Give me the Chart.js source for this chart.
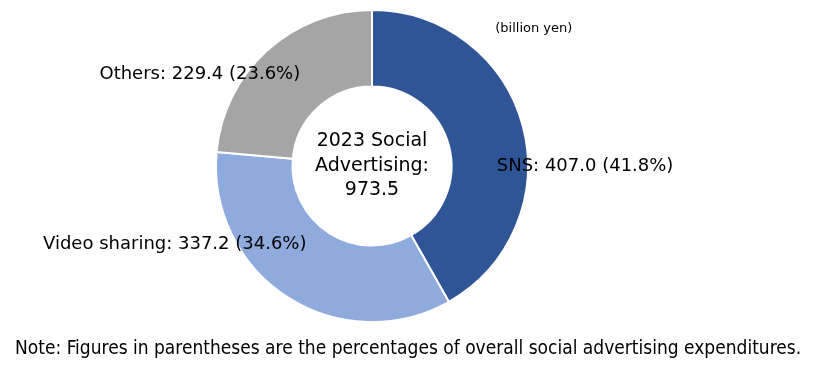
<!DOCTYPE html>
<html>
<head>
<meta charset="utf-8">
<script src="https://cdn.jsdelivr.net/npm/chart.js@4"></script>
<style>
    html, body { margin: 0; padding: 0; background: #fff; }
    #wrap { position: relative; width: 814px; height: 368px; }
    #note {
        position: absolute; left: 15px; top: 336px;
        font-family: "DejaVu Sans Condensed", "DejaVu Sans", sans-serif;
        font-size: 19px; color: #000; white-space: nowrap;
    }
</style>
</head>
<body>
<div id="wrap">
    <canvas id="socialChart" width="814" height="368"></canvas>
    <div id="note">Note: Figures in parentheses are the percentages of overall social advertising expenditures.</div>
</div>
<script>
// ============================
// DATA
// ============================
const categories = ["SNS", "Video sharing", "Others"];
const amounts = [407.0, 337.2, 229.4];
const shares = [41.8, 34.6, 23.6];
const totalLabel = ["2023 Social", "Advertising:", "973.5"];
const unitLabel = "(billion yen)";
const sliceColors = ["#2F5597", "#8FAADC", "#A5A5A5"];

// label anchor, relative to center, in units of outer radius
const labelSpots = [
    { dx: 0.80, dy: 0.0, align: "left" },
    { dx: -0.42, dy: 0.50, align: "right" },
    { dx: -0.46, dy: -0.59, align: "right" }
];

const labelFont = '18px "DejaVu Sans", sans-serif';

// draws slice labels, center text and unit note
const textPlugin = {
    id: "textPlugin",
    afterDraw(chart) {
        const ctx = chart.ctx;
        const arc = chart.getDatasetMeta(0).data[0];
        const cx = arc.x, cy = arc.y, r = arc.outerRadius;

        ctx.save();
        ctx.fillStyle = "#000";
        ctx.textBaseline = "middle";
        ctx.font = labelFont;

        categories.forEach((name, i) => {
            const spot = labelSpots[i];
            ctx.textAlign = spot.align;
            const txt = name + ": " + amounts[i].toFixed(1) + " (" + shares[i].toFixed(1) + "%)";
            ctx.fillText(txt, cx + spot.dx * r, cy + spot.dy * r);
        });

        // center
        ctx.textAlign = "center";
        ctx.font = '19px "DejaVu Sans", sans-serif';
        totalLabel.forEach((line, i) => {
            ctx.fillText(line, cx, cy + (i - 1) * 24.5);
        });

        // unit
        ctx.textAlign = "left";
        ctx.font = '13px "DejaVu Sans", sans-serif';
        ctx.fillText(unitLabel, cx + 0.79 * r, cy - 0.88 * r);
        ctx.restore();
    }
};

document.addEventListener("DOMContentLoaded", () => {
    new Chart(document.getElementById("socialChart"), {
        type: "doughnut",
        data: {
            labels: categories,
            datasets: [{
                data: amounts,
                backgroundColor: sliceColors,
                borderColor: "#ffffff",
                borderWidth: 2
            }]
        },
        options: {
            responsive: false,
            animation: false,
            cutout: "51%",
            layout: { padding: { top: 9, bottom: 45, left: 0, right: 70 } },
            plugins: {
                legend: { display: false },
                tooltip: { enabled: false }
            }
        },
        plugins: [textPlugin]
    });
});
</script>
</body>
</html>
